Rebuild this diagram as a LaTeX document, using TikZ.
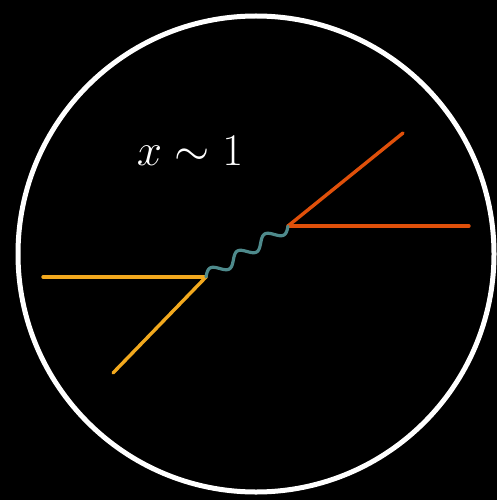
\documentclass[tikz,border=0pt]{standalone}
\begin{document}
\begin{tikzpicture}[x=1pt,y=-1pt,
  ring/.style={draw=white,line width=5pt},
  inleg/.style={draw=inorange,line width=3.4pt,line cap=round},
  outleg/.style={draw=outred,line width=3.4pt,line cap=round},
  photon/.style={draw=photonteal,line width=3.2pt,line cap=round},
  lbl/.style={text=white,font=\Huge}]
\definecolor{inorange}{HTML}{F2A91E}
\definecolor{outred}{HTML}{E0500A}
\definecolor{photonteal}{HTML}{4E8A8C}
\fill[black] (0,0) rectangle (497,500);
\useasboundingbox (0,0) rectangle (497,500);
\draw[ring] (256,254) circle (238);
\coordinate (v1) at (206,277);
\coordinate (v2) at (288,226);
\coordinate (a1) at (43,277);
\coordinate (a2) at (113,373);
\coordinate (b1) at (403,133);
\coordinate (b2) at (469,226);
\node[lbl] (x) at (190,151) {\scalebox{1.82}{$x\sim 1$}};
\draw[inleg] (a1) -- (v1);
\draw[inleg] (a2) -- (v1);
\draw[outleg] (v2) -- (b1);
\draw[outleg] (v2) -- (b2);
% photon: sine along v1->v2, 3 periods
\draw[photon] plot[domain=0:1,samples=150,smooth,variable=\t]
  ({206+82*\t - 0.528*5.5*sin(1080*\t)},{277-51*\t - 0.849*5.5*sin(1080*\t)});
\end{tikzpicture}
\end{document}
